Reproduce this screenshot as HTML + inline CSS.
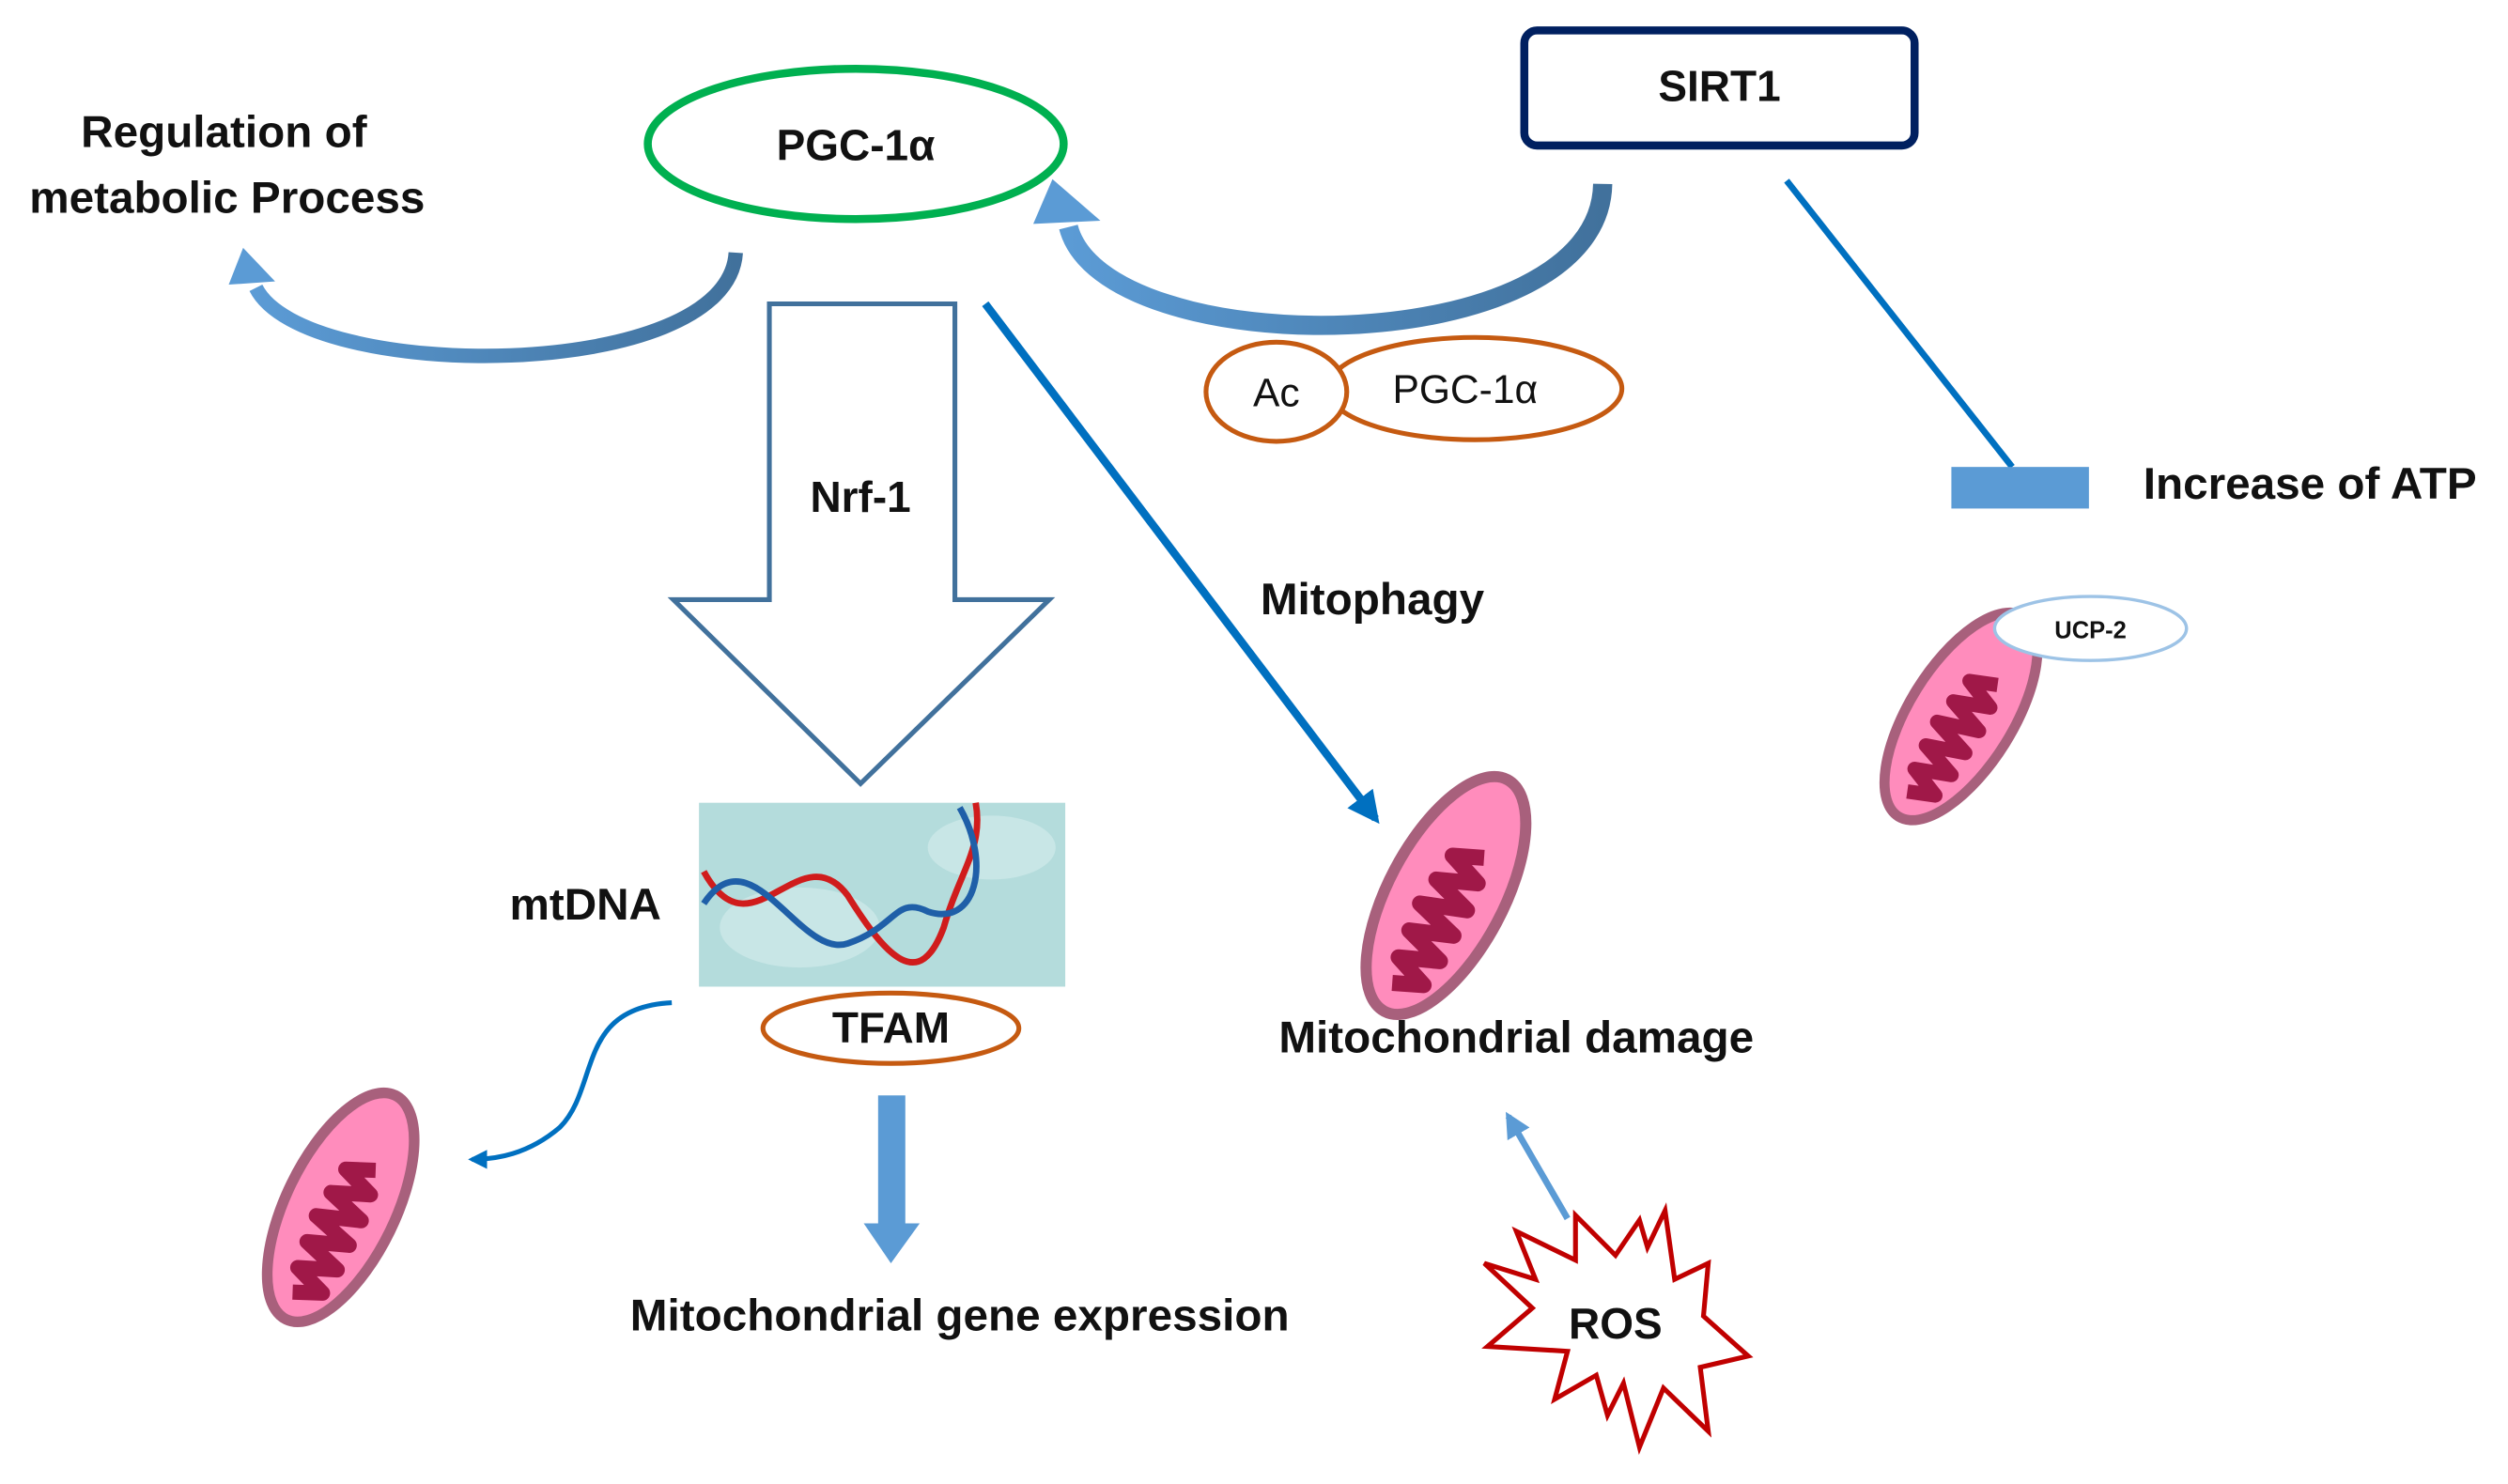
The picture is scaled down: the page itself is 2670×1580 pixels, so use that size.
<!DOCTYPE html>
<html><head><meta charset="utf-8"><style>
html,body{margin:0;padding:0;background:#fff}
svg{display:block}
text{font-family:"Liberation Sans",sans-serif;font-weight:bold;fill:#111}
</style></head><body>
<svg width="2670" height="1580" viewBox="0 0 1568 928" preserveAspectRatio="none" xmlns="http://www.w3.org/2000/svg">
<defs>
<linearGradient id="ga" x1="0" y1="0" x2="1" y2="0">
<stop offset="0" stop-color="#5b9bd5"/><stop offset="1" stop-color="#41719c"/></linearGradient>
<marker id="ah" viewBox="0 0 10 10" refX="8" refY="5" markerWidth="4" markerHeight="4" orient="auto"><path d="M0,0L10,5L0,10z" fill="#0070c0"/></marker>
<marker id="ah2" viewBox="0 0 10 10" refX="8" refY="5" markerWidth="4" markerHeight="4" orient="auto"><path d="M0,0L10,5L0,10z" fill="#5b9bd5"/></marker>
<g id="mito">
<ellipse cx="0" cy="0" rx="82" ry="36" fill="#ff8cbc" stroke="#a8607c" stroke-width="7"/>
<path d="M-64,-4 l8,18 l8,-22 l10,24 l8,-26 l10,26 l8,-28 l10,28 l8,-26 l10,24 l8,-22 l8,18" fill="none" stroke="#a01848" stroke-width="10" stroke-linejoin="round"/>
</g>
</defs>

<ellipse cx="535" cy="90" rx="130" ry="47" fill="#fff" stroke="#00b050" stroke-width="5"/>
<text x="535" y="100" font-size="27" text-anchor="middle">PGC-1α</text>

<rect x="953" y="19" width="244" height="72" rx="8" fill="#fff" stroke="#002060" stroke-width="5"/>
<text x="1075" y="63" font-size="27" text-anchor="middle">SIRT1</text>

<text x="140" y="92" font-size="28" text-anchor="middle">Regulation of</text>
<text x="142" y="133" font-size="28" text-anchor="middle">metabolic Process</text>

<path d="M460,158 C455,240 190,240 160,180" fill="none" stroke="url(#ga)" stroke-width="9"/>
<path d="M143,178 L152,155 L172,176 z" fill="#5b9bd5"/>

<path d="M1002,115 C1000,228 690,228 668,142" fill="none" stroke="url(#ga)" stroke-width="12"/>
<path d="M646,140 L658,112 L688,138 z" fill="#5b9bd5"/>

<ellipse cx="922" cy="243" rx="92" ry="32" fill="#fff" stroke="#c55a11" stroke-width="3"/>
<ellipse cx="798" cy="245" rx="44" ry="31" fill="#fff" stroke="#c55a11" stroke-width="3"/>
<text x="798" y="254" font-size="25" text-anchor="middle" style="font-weight:normal">Ac</text>
<text x="916" y="252" font-size="25" text-anchor="middle" style="font-weight:normal">PGC-1α</text>

<path d="M481,190 L597,190 L597,375 L656,375 L538,490 L421,375 L481,375 z" fill="#fff" stroke="#41719c" stroke-width="3"/>
<text x="538" y="320" font-size="27" text-anchor="middle">Nrf-1</text>

<line x1="616" y1="190" x2="860" y2="512" stroke="#0070c0" stroke-width="5" marker-end="url(#ah)"/>
<text x="858" y="384" font-size="28" text-anchor="middle">Mitophagy</text>

<line x1="1117" y1="113" x2="1258" y2="292" stroke="#0070c0" stroke-width="4"/>
<rect x="1220" y="292" width="86" height="26" fill="#5b9bd5"/>
<text x="1340" y="312" font-size="28">Increase of ATP</text>

<use href="#mito" transform="translate(1226,448) rotate(-58) scale(0.9)"/>
<ellipse cx="1307" cy="393" rx="60" ry="20" fill="#fff" stroke="#9dc3e6" stroke-width="2"/>
<text x="1307" y="399" font-size="15" text-anchor="middle">UCP-2</text>

<rect x="437" y="502" width="229" height="115" fill="#b4dcdc"/>
<ellipse cx="500" cy="580" rx="50" ry="25" fill="#c8e6e6"/>
<ellipse cx="620" cy="530" rx="40" ry="20" fill="#c8e6e6"/>
<path d="M440,545 C470,600 500,520 530,560 C555,600 575,620 590,580 C600,545 615,530 610,502" fill="none" stroke="#d01c1c" stroke-width="4"/>
<path d="M440,565 C470,520 500,600 530,590 C560,580 560,560 580,570 C610,580 620,540 600,505" fill="none" stroke="#1f5fa8" stroke-width="4"/>
<text x="366" y="575" font-size="28" text-anchor="middle">mtDNA</text>

<ellipse cx="557" cy="643" rx="80" ry="22" fill="#fff" stroke="#c55a11" stroke-width="3"/>
<text x="557" y="652" font-size="27" text-anchor="middle">TFAM</text>

<use href="#mito" transform="translate(904,560) rotate(-62)"/>
<text x="948" y="658" font-size="28" text-anchor="middle">Mitochondrial damage</text>

<path d="M420,627 C360,630 375,680 350,705 C330,722 310,725 295,725" fill="none" stroke="#0070c0" stroke-width="3" marker-end="url(#ah)"/>
<use href="#mito" transform="translate(213,755) rotate(-64) scale(0.95)"/>

<rect x="549" y="685" width="17" height="82" fill="#5b9bd5"/>
<path d="M540,765 L575,765 L557,790 z" fill="#5b9bd5"/>
<text x="600" y="832" font-size="28" text-anchor="middle">Mitochondrial gene expression</text>

<path d="M1041,757 L1047,800 L1068,790 L1065,823 L1093,848 L1063,855 L1068,895 L1040,868 L1025,905 L1015,865 L1005,885 L998,860 L972,875 L980,845 L930,842 L958,818 L928,790 L960,800 L948,770 L985,788 L985,760 L1010,785 L1025,763 L1030,780 z" fill="#fff" stroke="#c00000" stroke-width="3"/>
<text x="1010" y="837" font-size="27" text-anchor="middle">ROS</text>
<line x1="980" y1="762" x2="943" y2="698" stroke="#5b9bd5" stroke-width="4" marker-end="url(#ah2)"/>
</svg>
</body></html>
